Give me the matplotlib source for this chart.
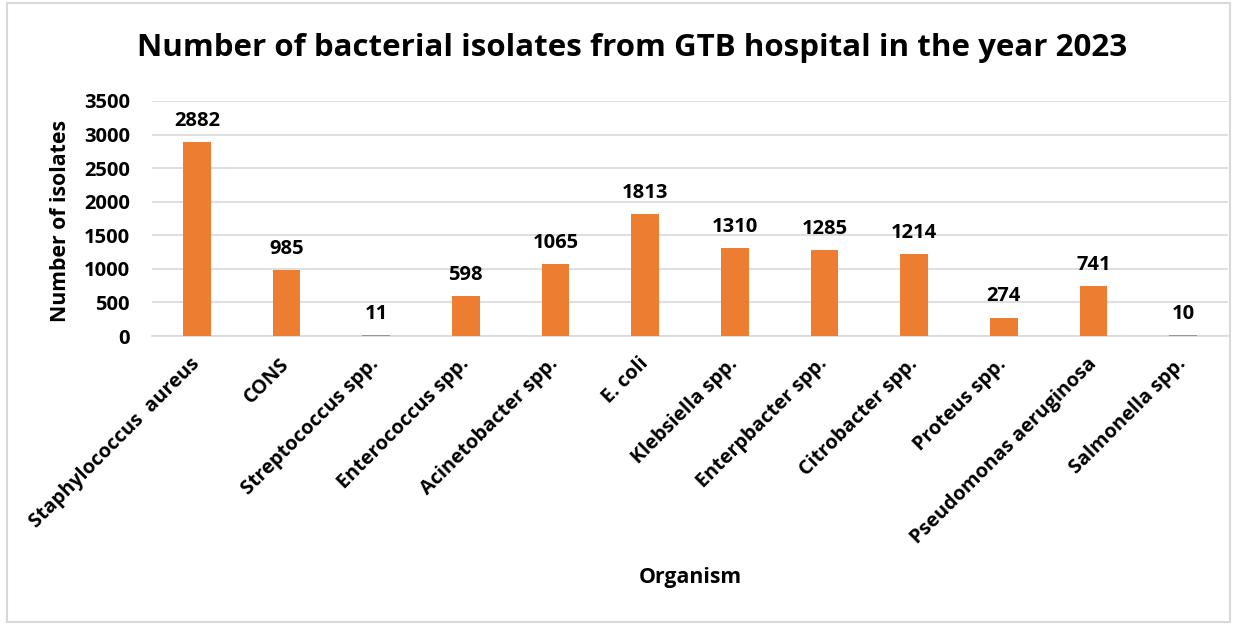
import matplotlib
matplotlib.use("Agg")
import matplotlib.pyplot as plt
from matplotlib.patches import Rectangle

categories = ["Staphylococcus  aureus", "CONS", "Streptococcus spp.", "Enterococcus spp.",
              "Acinetobacter spp.", "E. coli", "Klebsiella spp.", "Enterpbacter spp.",
              "Citrobacter spp.", "Proteus spp.", "Pseudomonas aeruginosa", "Salmonella spp."]
values = [2882, 985, 11, 598, 1065, 1813, 1310, 1285, 1214, 274, 741, 10]
yticks = [0, 500, 1000, 1500, 2000, 2500, 3000, 3500]

plt.rcParams['font.family'] = ['Open Sans', 'DejaVu Sans']
plt.rcParams['font.weight'] = 'bold'

fig = plt.figure(figsize=(12.36, 6.25), dpi=100)
ax = fig.add_axes([152/1236, 1-336/625, (1228-152)/1236, (336-101)/625])

x = list(range(len(categories)))
bars = ax.bar(x, values, width=0.31, color='#ED7D31', zorder=3)
for xi, v in zip(x, values):
    ax.annotate(str(v), (xi, v), xytext=(0, 8), textcoords='offset points',
                ha='center', va='bottom', fontsize=14.5, fontweight='bold')

ax.set_xlim(-0.5, len(categories) - 0.5)
ax.set_ylim(0, 3500)
ax.set_yticks(yticks)
ax.set_yticklabels([str(t) for t in yticks], fontsize=14.5, fontweight='bold')
ax.set_xticks(x)
ax.set_xticklabels(categories, rotation=45, ha='right', va='center', rotation_mode='anchor',
                   fontsize=14.3, fontweight='bold')
ax.tick_params(axis='both', length=0)
ax.tick_params(axis='x', pad=18)
ax.tick_params(axis='y', pad=16)
ax.grid(axis='y', color='#d9d9d9', linewidth=1.2, zorder=0)
for s in ['top', 'right', 'left']:
    ax.spines[s].set_visible(False)
ax.spines['bottom'].set_color('#d9d9d9')
ax.spines['bottom'].set_linewidth(1.2)

fig.text(60/1236, 1-221/625, "Number of isolates", ha='center', va='center', rotation=90,
         fontsize=15.3, fontweight='bold')
fig.text(690/1236, 1-578/625, "Organism", ha='center', va='center', fontsize=15.3, fontweight='bold')
fig.text(632/1236, 1-48/625, "Number of bacterial isolates from GTB hospital in the year 2023",
         ha='center', va='center', fontsize=22.5, fontweight='bold')

fig.patches.append(Rectangle((7/1236, 1-622/625), (1230-7)/1236, (622-3)/625,
                             transform=fig.transFigure, fill=False, edgecolor='#d9d9d9',
                             linewidth=1.5))

fig.savefig("out.png", dpi=100)
